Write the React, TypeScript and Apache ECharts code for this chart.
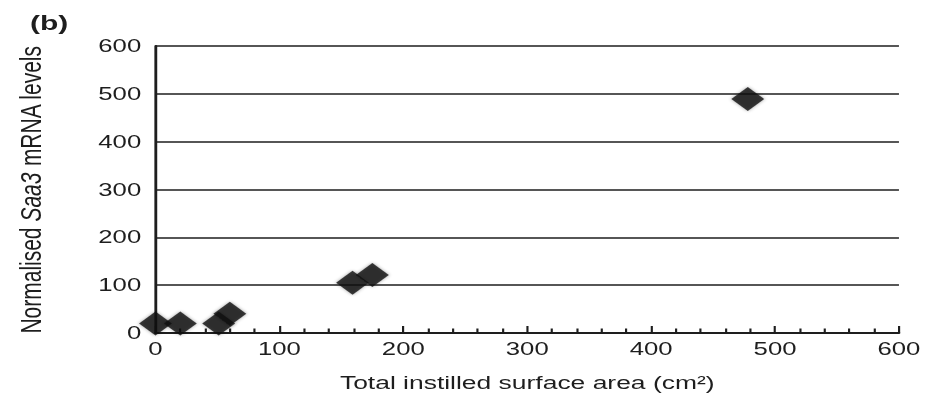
import React, { useEffect, useRef } from 'react';
import * as echarts from 'echarts';

// Data
const surfaceArea = [0, 20, 51, 60, 159, 175, 478];
const saa3Levels = [20, 20, 20, 40, 105, 121, 489];

const xMin = 0;
const xMax = 600;
const xInterval = 100;
const yMin = 0;
const yMax = 600;
const yInterval = 100;

const titleText = '(b)';
const xAxisName = 'Total instilled surface area (cm\u00B2)';
const yAxisName = 'Normalised {i|Saa3} mRNA levels';

// The reference picture is horizontally stretched; reproduce that.
const STRETCH = 1.4294;
const BASE_W = 659;
const BASE_H = 403;

const FONT = '"Liberation Sans", Arial, Helvetica, sans-serif';
const INK = '#1e1e1e';

export default function App() {
  const ref = useRef<HTMLDivElement>(null);

  useEffect(() => {
    if (!ref.current) return;
    const chart = echarts.init(ref.current, undefined, { renderer: 'svg' });
    const points = surfaceArea.map((x, i) => [x, saa3Levels[i]]);
    chart.setOption({
      animation: false,
      backgroundColor: '#ffffff',
      title: {
        text: titleText,
        left: 16,
        top: 7,
        textStyle: { fontFamily: FONT, fontSize: 21, fontWeight: 'bold', color: INK },
      },
      grid: { left: 108.8, right: 30.1, top: 46, bottom: 70, containLabel: false },
      xAxis: {
        type: 'value',
        min: xMin,
        max: xMax,
        interval: xInterval,
        name: xAxisName,
        nameLocation: 'middle',
        nameGap: 40,
        nameTextStyle: { fontFamily: FONT, fontSize: 18.5, color: INK },
        axisLine: { show: true, onZero: false, lineStyle: { color: INK, width: 2 } },
        axisTick: { show: true, inside: true, length: 7, lineStyle: { color: INK, width: 1.5 } },
        minorTick: { show: true, splitNumber: 5, length: 4.5, lineStyle: { color: INK, width: 1.5 } },
        axisLabel: { fontFamily: FONT, fontSize: 18, color: INK, margin: 7 },
        splitLine: { show: false },
      },
      yAxis: {
        type: 'value',
        min: yMin,
        max: yMax,
        interval: yInterval,
        name: yAxisName,
        nameLocation: 'middle',
        nameGap: 77,
        nameRotate: 90,
        nameTextStyle: {
          fontFamily: FONT,
          fontSize: 21,
          color: INK,
          rich: { i: { fontFamily: FONT, fontSize: 21, fontStyle: 'italic', color: INK } },
        },
        axisLine: { show: true, lineStyle: { color: INK, width: 2 } },
        axisTick: { show: false },
        axisLabel: { fontFamily: FONT, fontSize: 18, color: INK, margin: 10 },
        splitLine: { show: true, lineStyle: { color: INK, width: 1.6 } },
      },
      series: [
        {
          type: 'scatter',
          data: points,
          symbol: 'diamond',
          symbolSize: [23, 24],
          itemStyle: {
            color: '#111111',
            shadowBlur: 3,
            shadowColor: 'rgba(0,0,0,0.45)',
          },
          z: 5,
        },
      ],
    });
    return () => chart.dispose();
  }, []);

  return (
    <div
      ref={ref}
      style={{
        position: 'absolute',
        left: 0,
        top: 0,
        width: BASE_W,
        height: BASE_H,
        transform: `scaleX(${STRETCH})`,
        transformOrigin: '0 0',
      }}
    />
  );
}
